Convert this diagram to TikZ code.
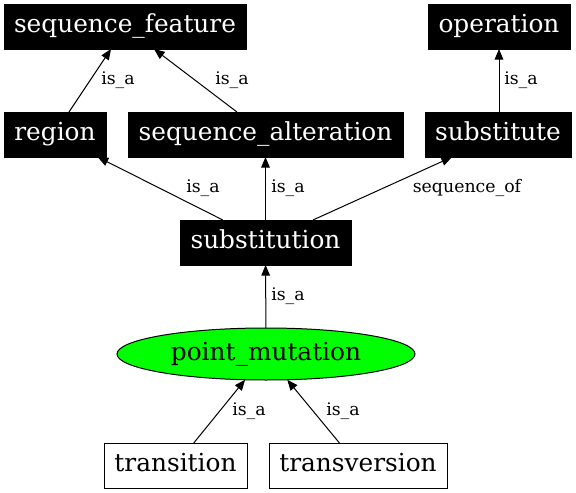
\documentclass[tikz,border=0pt]{standalone}
\usepackage{fontspec}
\setmainfont{DejaVu Serif}
\usetikzlibrary{positioning}
\usetikzlibrary{arrows.meta}
\usetikzlibrary{shapes.geometric}

\begin{document}
\begin{tikzpicture}[x=0.75pt, y=-0.75pt,
	nosep/.style={inner sep=0pt, outer sep=0pt},
	blkbox/.style={rectangle, fill=black, draw=black, text=white, line width=0.75pt,
		font=\fontsize{18.6}{20}\selectfont, minimum height=33.75pt,
		nosep, text height=13pt, text depth=4pt},
	wtbox/.style={blkbox, fill=white, text=black},
	grnode/.style={ellipse, fill=green, draw=black, line width=0.75pt,
		font=\fontsize{18.6}{20}\selectfont, minimum width=223.5pt, minimum height=39pt,
		nosep, text height=13pt, text depth=4pt},
	elabel/.style={font=\fontsize{13}{15}\selectfont, nosep},
	arrow/.style={line width=0.75pt, black, -{Triangle[length=8pt, width=6.5pt]}}
]
\useasboundingbox (0,0) rectangle (576,493);

% Top row
\node[blkbox, minimum width=181.5pt] (nsf) at (125,26.5) {sequence\_feature};
\node[blkbox, minimum width=106.5pt] (nop) at (499,26.5) {operation};

% Second row
\node[blkbox, minimum width=76.5pt] (nrg) at (55,134.5) {region};
\node[blkbox, minimum width=206.25pt] (nsa) at (265.5,134.5) {sequence\_alteration};
\node[blkbox, minimum width=109.5pt] (nst) at (498,134.5) {substitute};

% Middle
\node[blkbox, minimum width=128.25pt] (nsn) at (265.5,242.5) {substitution};
\node[grnode] (npm) at (266,354) {point\_mutation};

% Leaves
\node[wtbox, minimum width=107.25pt] (ntr) at (175.5,465.5) {transition};
\node[wtbox, minimum width=133.5pt] (ntv) at (358,465.5) {transversion};

% Edges and their labels
\draw[arrow] ([xshift=10.5pt]nrg.north) -- ([xshift=-10.5pt]nsf.south);
\node[elabel] (l1) at (118,80) {is\_a};

\draw[arrow] ([xshift=-21.4pt]nsa.north) -- ([xshift=21.75pt]nsf.south);
\node[elabel] (l2) at (232,80) {is\_a};

\draw[arrow] (nst.north -| nop.south) -- (nop.south);
\node[elabel] (l3) at (521,80) {is\_a};

\draw[arrow] ([xshift=-32pt]nsn.north) -- ([xshift=32pt]nrg.south);
\node[elabel] (l4) at (203,188) {is\_a};

\draw[arrow] (nsn) -- (nsa);
\node[elabel] (l5) at (288,188) {is\_a};

\draw[arrow] ([xshift=35.6pt]nsn.north) -- ([xshift=-34.5pt]nst.south);
\node[elabel] (l6) at (467,188) {sequence\_of};

\draw[arrow] (npm) -- (nsn);
\node[elabel] (l7) at (288,296) {is\_a};

\draw[arrow] (ntr) -- (npm);
\node[elabel] (l8) at (249,411) {is\_a};

\draw[arrow] (ntv) -- (npm);
\node[elabel] (l9) at (343,411) {is\_a};

\end{tikzpicture}
\end{document}
